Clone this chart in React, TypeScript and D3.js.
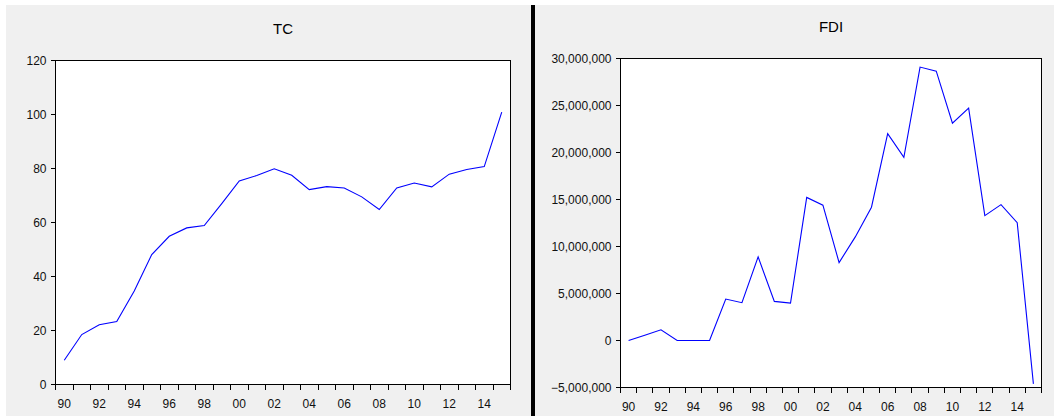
import React from "react";
import * as d3 from "d3";

// Annual series, 1990–2015
const years: number[] = d3.range(1990, 2016);

const tcValues: number[] = [
  9.0, 18.5, 22.1, 23.3, 34.6, 48.1, 54.9, 58.0, 58.9, 67.0,
  75.4, 77.4, 79.9, 77.5, 72.2, 73.3, 72.8, 69.5, 64.8, 72.8,
  74.6, 73.2, 77.9, 79.6, 80.7, 100.9,
];

const fdiValues: number[] = [
  0, 560000, 1140000, 0, 0, 0, 4410000, 4020000, 8890000, 4160000,
  3980000, 15220000, 14400000, 8290000, 11020000, 14180000, 22010000, 19490000, 29090000, 28660000,
  23120000, 24720000, 13280000, 14450000, 12530000, -4620000,
];

const tcTicks: number[] = [0, 20, 40, 60, 80, 100, 120];
const fdiTicks: number[] = [-5000000, 0, 5000000, 10000000, 15000000, 20000000, 25000000, 30000000];

const FONT = "'Liberation Sans', Arial, sans-serif";

type PanelProps = {
  title: string;
  values: number[];
  ticks: number[];
  domain: [number, number];
  left: number;
  right: number;
  top: number;
  bottom: number;
  fmt: (v: number) => string;
};

function Panel({ title, values, ticks, domain, left, right, top, bottom, fmt }: PanelProps) {
  const x = d3.scaleBand<number>().domain(years).range([left, right]).padding(0);
  const y = d3.scaleLinear().domain(domain).range([bottom, top]);
  const bw = x.bandwidth();
  const line = d3
    .line<number>()
    .x((_, i) => (x(years[i]) as number) + bw / 2)
    .y((d) => y(d));

  const boundaries = years.map((yr) => x(yr) as number).concat([right]);

  return (
    <g>
      <text
        x={(left + right) / 2}
        y={top - 27}
        textAnchor="middle"
        fontFamily={FONT}
        fontSize={15}
        fill="#000"
      >
        {title}
      </text>
      <rect x={left} y={top} width={right - left} height={bottom - top} fill="#fff" />
      <path d={line(values) ?? ""} fill="none" stroke="#0000ff" strokeWidth={1.1} />
      <rect
        x={left}
        y={top}
        width={right - left}
        height={bottom - top}
        fill="none"
        stroke="#000"
        strokeWidth={1}
        shapeRendering="crispEdges"
      />
      {ticks.map((t) => (
        <g key={t}>
          <line
            x1={left - 5}
            x2={left}
            y1={y(t)}
            y2={y(t)}
            stroke="#000"
            shapeRendering="crispEdges"
          />
          <text
            x={left - 9}
            y={y(t)}
            dy="0.35em"
            textAnchor="end"
            fontFamily={FONT}
            fontSize={12}
            fill="#111"
          >
            {fmt(t)}
          </text>
        </g>
      ))}
      {boundaries.map((bx, i) => (
        <line
          key={i}
          x1={bx}
          x2={bx}
          y1={bottom}
          y2={bottom + 5}
          stroke="#000"
          shapeRendering="crispEdges"
        />
      ))}
      {years
        .filter((yr) => yr % 2 === 0)
        .map((yr) => (
          <text
            key={yr}
            x={(x(yr) as number) + bw / 2}
            y={bottom + 23}
            textAnchor="middle"
            fontFamily={FONT}
            fontSize={12}
            fill="#111"
          >
            {String(yr % 100).padStart(2, "0")}
          </text>
        ))}
    </g>
  );
}

export default function App() {
  const W = 1054;
  const H = 416;
  const comma = d3.format(",");
  return (
    <svg
      width={W}
      height={H}
      style={{ position: "absolute", left: 0, top: 0, display: "block" }}
    >
      <rect x={0} y={0} width={W} height={H} fill="#fff" />
      <rect x={6} y={5} width={525} height={H - 5} fill="#f0f0f0" />
      <rect x={535} y={5} width={W - 535} height={H - 5} fill="#f0f0f0" />
      <rect x={531} y={5} width={4} height={H - 5} fill="#000" />
      <Panel
        title="TC"
        values={tcValues}
        ticks={tcTicks}
        domain={[0, 120]}
        left={55.5}
        right={510.5}
        top={60.5}
        bottom={384.5}
        fmt={(v) => String(v)}
      />
      <Panel
        title="FDI"
        values={fdiValues}
        ticks={fdiTicks}
        domain={[-5000000, 30000000]}
        left={620.5}
        right={1041.5}
        top={58.5}
        bottom={387.5}
        fmt={(v) => comma(v)}
      />
    </svg>
  );
}
